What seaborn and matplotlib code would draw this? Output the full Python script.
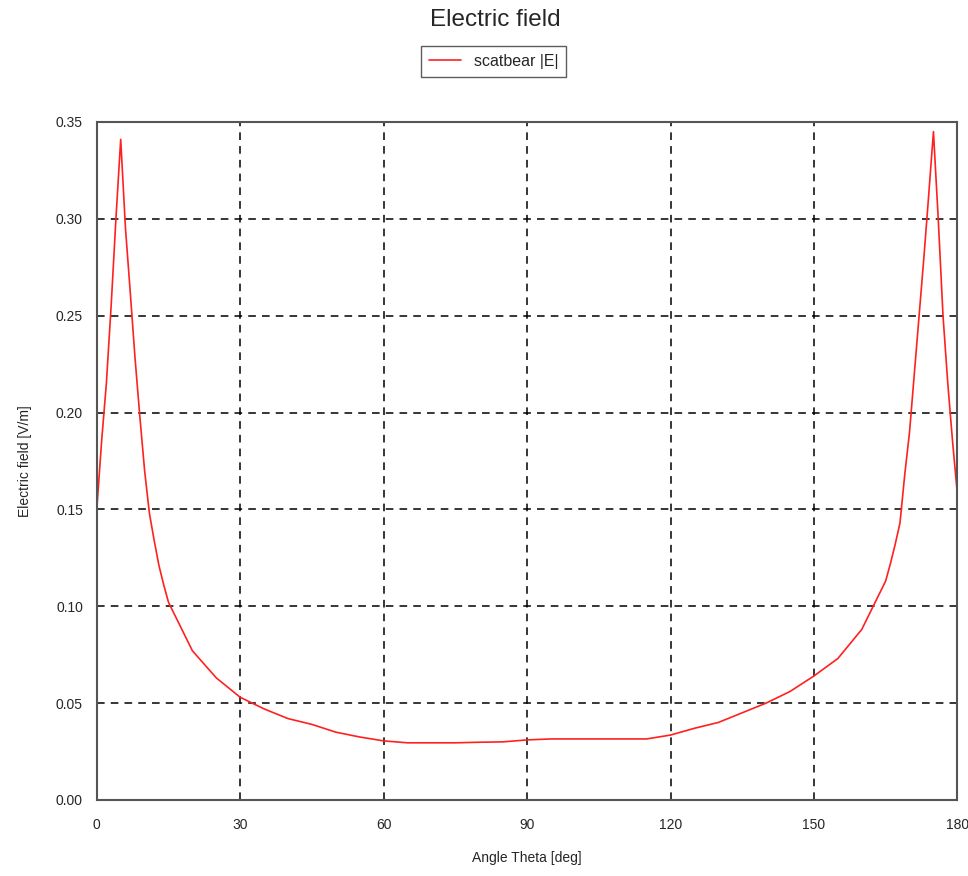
import numpy as np
import pandas as pd
import matplotlib
matplotlib.use("Agg")
import matplotlib.pyplot as plt
import seaborn as sns

# angle samples [deg] and |E| values [V/m]
theta = [0, 1, 2, 3, 4, 5, 6, 7, 8, 9, 10, 11, 12, 13, 14, 15,
         20, 25, 30, 35, 40, 45, 50, 55, 60, 65, 70, 75, 80, 85, 90,
         95, 100, 105, 110, 115, 120, 125, 130, 135, 140, 145, 150, 155,
         160, 165, 166, 167, 168, 169, 170, 171, 172, 173, 174, 175,
         176, 177, 178, 179, 180]
e_field = [0.150, 0.185, 0.215, 0.255, 0.300, 0.341, 0.295, 0.262, 0.228, 0.198,
           0.170, 0.148, 0.134, 0.121, 0.111, 0.102,
           0.077, 0.063, 0.053, 0.047, 0.042, 0.039, 0.035, 0.0325, 0.0305,
           0.0295, 0.0295, 0.0295, 0.0298, 0.030, 0.031,
           0.0315, 0.0315, 0.0315, 0.0315, 0.0315, 0.0335, 0.037, 0.040, 0.045,
           0.050, 0.056, 0.064, 0.073,
           0.088, 0.113, 0.122, 0.132, 0.143, 0.168, 0.190, 0.220, 0.250,
           0.280, 0.312, 0.345,
           0.300, 0.250, 0.215, 0.185, 0.158]

x_ticks = [0, 30, 60, 90, 120, 150, 180]
y_ticks = [0.00, 0.05, 0.10, 0.15, 0.20, 0.25, 0.30, 0.35]

df = pd.DataFrame({"theta": theta, "E": e_field})

sns.set_style("white")
plt.rcParams["font.family"] = ["Liberation Sans", "DejaVu Sans"]

fig = plt.figure(figsize=(9.68, 8.76), dpi=100)
ax = fig.add_axes([0.100, 0.0868, 0.889, 0.7740])

sns.lineplot(data=df, x="theta", y="E", color="#ff2020", linewidth=1.2,
             label="scatbear |E|", ax=ax, legend=False)

ax.set_xlim(0, 180)
ax.set_ylim(0, 0.35)
ax.set_xticks(x_ticks)
ax.set_yticks(y_ticks)
ax.set_yticklabels([f"{v:.2f}" for v in y_ticks])
ax.tick_params(axis="both", labelsize=10, length=0)
ax.tick_params(axis="x", pad=13)
ax.tick_params(axis="y", pad=10)
ax.grid(True, color="black", linestyle=(0, (5, 4)), linewidth=1.1)
for s in ax.spines.values():
    s.set_color("#555555")
    s.set_linewidth(1.5)

ax.set_xlabel("Angle Theta [deg]", fontsize=10, labelpad=14)
ax.set_ylabel("Electric field [V/m]", fontsize=10, labelpad=17)

fig.suptitle("Electric field", fontsize=17.5, y=0.977, va="center", x=0.512)
handles, labels = ax.get_legend_handles_labels()
fig.legend(handles, labels, loc="center", bbox_to_anchor=(0.510, 0.930),
           fontsize=11.5, frameon=True, fancybox=False, edgecolor="#333333",
           handlelength=2.0, borderpad=0.5)

fig.savefig("out.png", dpi=100, facecolor="white")
